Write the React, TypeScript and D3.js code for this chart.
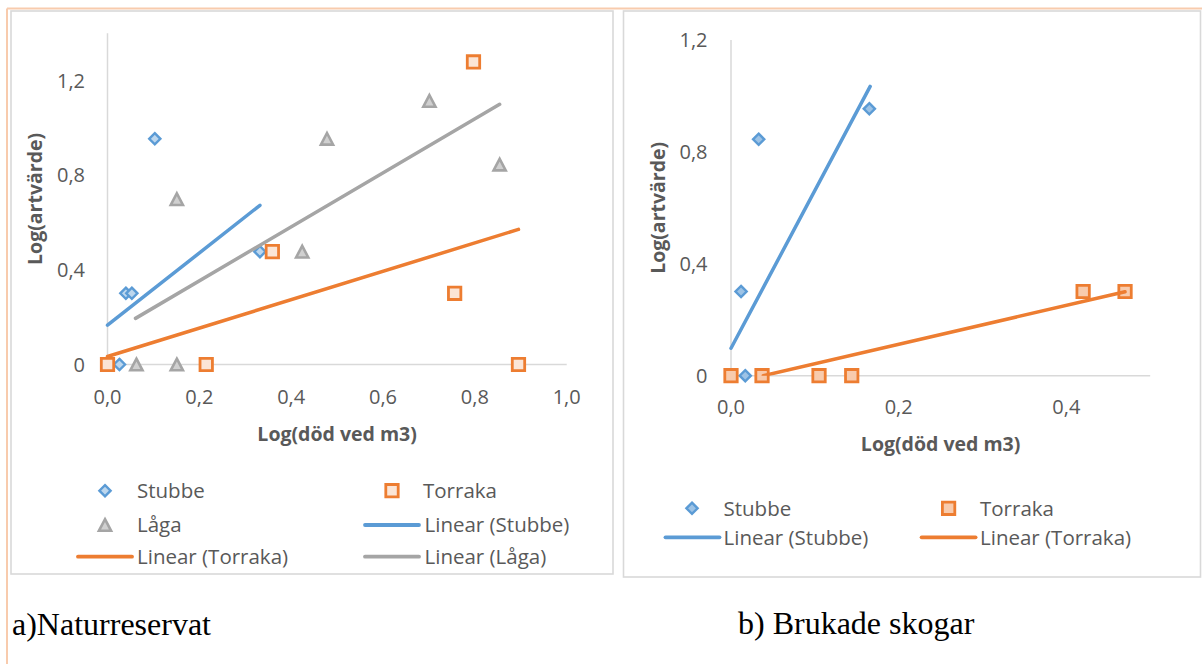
import React from 'react';
import * as d3 from 'd3';

// ---------- data ----------
const yTickValues = [0, 0.4, 0.8, 1.2];
const leftXTickValues = [0, 0.2, 0.4, 0.6, 0.8, 1.0];
const rightXTickValues = [0, 0.2, 0.4];

// a) Naturreservat
const natStubbeX = [0.026, 0.04, 0.053, 0.103, 0.332];
const natStubbeY = [0, 0.301, 0.301, 0.954, 0.477];
const natTorrakaX = [0, 0.215, 0.359, 0.756, 0.797, 0.895];
const natTorrakaY = [0, 0, 0.477, 0.301, 1.279, 0];
const natLagaX = [0.063, 0.151, 0.151, 0.424, 0.478, 0.701, 0.854];
const natLagaY = [0, 0, 0.699, 0.477, 0.954, 1.114, 0.845];
// trend line end points [x0, y0, x1, y1]
const natTrendStubbe = [0, 0.166, 0.332, 0.673];
const natTrendTorraka = [0, 0.034, 0.895, 0.571];
const natTrendLaga = [0.061, 0.195, 0.854, 1.1];

// b) Brukade skogar
const brukStubbeX = [0.012, 0.017, 0.033, 0.165];
const brukStubbeY = [0.301, 0, 0.845, 0.954];
const brukTorrakaX = [0, 0.037, 0.105, 0.144, 0.42, 0.47];
const brukTorrakaY = [0, 0, 0, 0, 0.301, 0.301];
const brukTrendStubbe = [0, 0.098, 0.166, 1.034];
const brukTrendTorraka = [0.0385, 0, 0.47, 0.3];

const seriesNames = ['Stubbe', 'Torraka', 'Låga'];
const yTitle = 'Log(artvärde)';
const xTitle = 'Log(död ved m3)';
const captionA = 'a)Naturreservat';
const captionB = 'b) Brukade skogar';

// ---------- styles ----------
const BLUE = '#5B9BD5';
const ORANGE = '#ED7D31';
const GRAY = '#A5A5A5';
const TEXT = '#595959';
const AXIS = '#D9D9D9';
const SANS = "'Open Sans', 'Noto Sans', sans-serif";
const SERIF = "'Liberation Serif', 'Times New Roman', serif";

const symDiamond = {
  draw(c: any, r: number) {
    c.moveTo(0, -r); c.lineTo(r, 0); c.lineTo(0, r); c.lineTo(-r, 0); c.closePath();
  },
};
const symSquare = {
  draw(c: any, r: number) { c.rect(-r, -r, 2 * r, 2 * r); },
};
const symTriangle = {
  draw(c: any, r: number) {
    c.moveTo(0, -r); c.lineTo(r * 1.05, r); c.lineTo(-r * 1.05, r); c.closePath();
  },
};

type MarkerStyle = { sym: any; r: number; fill: string; stroke: string; sw: number };

const fmtX = (v: number) => v.toFixed(1).replace('.', ',');
const fmtY = (v: number) => (v === 0 ? '0' : v.toFixed(1).replace('.', ','));

function Marker({ x, y, m }: { x: number; y: number; m: MarkerStyle }) {
  const p = d3.symbol().type(m.sym).size(m.r)() as string;
  return <path d={p} transform={`translate(${x},${y})`} fill={m.fill} stroke={m.stroke} strokeWidth={m.sw} strokeLinejoin="miter" />;
}

type Scatter = { xs: number[]; ys: number[]; m: MarkerStyle };
type Trend = { t: number[]; color: string };
type LegendItem = { kind: 'marker' | 'line'; label: string; m?: MarkerStyle; color?: string; cx: number; tx: number; y: number };

function Chart(props: {
  frame: [number, number, number, number];
  xRange: [number, number];
  yRange: [number, number];
  xDomain: [number, number];
  yDomain: [number, number];
  xTicks: number[];
  yTicks: number[];
  yLabelX: number;
  xLabelY: number;
  yTitleX: number;
  xTitleY: number;
  scatters: Scatter[];
  trends: Trend[];
  legend: LegendItem[];
  clipId: string;
}) {
  const x = d3.scaleLinear().domain(props.xDomain).range(props.xRange);
  const y = d3.scaleLinear().domain(props.yDomain).range(props.yRange);
  const [fx0, fy0, fx1, fy1] = props.frame;
  const line = d3.line<[number, number]>().x((d) => x(d[0])).y((d) => y(d[1]));
  const yMid = (props.yRange[0] + props.yRange[1]) / 2;
  const xMid = (props.xRange[0] + props.xRange[1]) / 2;
  return (
    <g>
      <rect x={fx0} y={fy0} width={fx1 - fx0} height={fy1 - fy0} fill="#fff" stroke={AXIS} strokeWidth={1.6} />
      <clipPath id={props.clipId}>
        <rect x={props.xRange[0] - 10} y={props.yRange[1]} width={props.xRange[1] - props.xRange[0] + 20} height={props.yRange[0] - props.yRange[1]} />
      </clipPath>
      {/* axes */}
      <line x1={x(props.xDomain[0])} x2={x(props.xDomain[0])} y1={y(props.yDomain[0])} y2={y(props.yDomain[1])} stroke={AXIS} strokeWidth={1.5} />
      <line x1={x(props.xDomain[0])} x2={x(props.xDomain[1])} y1={y(0)} y2={y(0)} stroke={AXIS} strokeWidth={1.5} />
      {props.yTicks.map((v) => (
        <text key={'y' + v} x={props.yLabelX} y={y(v)} dy="0.36em" textAnchor="end" fontFamily={SANS} fontSize={20} fill={TEXT}>
          {fmtY(v)}
        </text>
      ))}
      {props.xTicks.map((v) => (
        <text key={'x' + v} x={x(v)} y={props.xLabelY} dy="0.36em" textAnchor="middle" fontFamily={SANS} fontSize={20} fill={TEXT}>
          {fmtX(v)}
        </text>
      ))}
      <text transform={`translate(${props.yTitleX},${yMid}) rotate(-90)`} dy="0.36em" textAnchor="middle" fontFamily={SANS} fontWeight="bold" fontSize={19.5} fill={TEXT}>
        {yTitle}
      </text>
      <text x={xMid} y={props.xTitleY} dy="0.36em" textAnchor="middle" fontFamily={SANS} fontWeight="bold" fontSize={19.5} fill={TEXT}>
        {xTitle}
      </text>
      {props.scatters.map((s, si) =>
        s.xs.map((xv, i) => <Marker key={si + '-' + i} x={x(xv)} y={y(s.ys[i])} m={s.m} />)
      )}
      <g clipPath={`url(#${props.clipId})`}>
        {props.trends.map((tr, i) => (
          <path key={i} d={line([[tr.t[0], tr.t[1]], [tr.t[2], tr.t[3]]]) as string} stroke={tr.color} strokeWidth={3.5} fill="none" strokeLinecap="round" />
        ))}
      </g>
      {props.legend.map((it, i) => (
        <g key={'l' + i}>
          {it.kind === 'marker' ? (
            <Marker x={it.cx} y={it.y} m={it.m as MarkerStyle} />
          ) : (
            <line x1={it.cx - 27} x2={it.cx + 27} y1={it.y} y2={it.y} stroke={it.color} strokeWidth={3.8} strokeLinecap="round" />
          )}
          <text x={it.tx} y={it.y} dy="0.36em" fontFamily={SANS} fontSize={20.5} fill={TEXT}>
            {it.label}
          </text>
        </g>
      ))}
    </g>
  );
}

export default function App() {
  const mStubbeA: MarkerStyle = { sym: symDiamond, r: 5.6, fill: '#BDD7EE', stroke: BLUE, sw: 2.4 };
  const mTorrakaA: MarkerStyle = { sym: symSquare, r: 6.2, fill: '#FBE5D6', stroke: ORANGE, sw: 2.8 };
  const mLagaA: MarkerStyle = { sym: symTriangle, r: 5.8, fill: '#D0D0D0', stroke: GRAY, sw: 2.6 };
  const mStubbeB: MarkerStyle = { sym: symDiamond, r: 5.6, fill: '#9DC3E6', stroke: BLUE, sw: 2.4 };
  const mTorrakaB: MarkerStyle = { sym: symSquare, r: 6.2, fill: '#F8CBAD', stroke: ORANGE, sw: 2.8 };

  return (
    <svg width={1202} height={664} style={{ position: 'absolute', left: 0, top: 0, background: '#fff' }}>
      <rect x={0} y={0} width={1202} height={664} fill="#fff" />
      {/* page border */}
      <line x1={7} x2={1202} y1={8.5} y2={8.5} stroke="#F8CBAD" strokeWidth={2} />
      <line x1={7} x2={7} y1={8.5} y2={664} stroke="#F8CBAD" strokeWidth={2} />

      <Chart
        clipId="clipA"
        frame={[11, 11, 613, 574]}
        xRange={[107.5, 566.7]}
        yRange={[364.5, 33.3]}
        xDomain={[0, 1]}
        yDomain={[0, 1.4]}
        xTicks={leftXTickValues}
        yTicks={yTickValues}
        yLabelX={85}
        xLabelY={396.5}
        yTitleX={34.5}
        xTitleY={434}
        scatters={[
          { xs: natStubbeX, ys: natStubbeY, m: mStubbeA },
          { xs: natTorrakaX, ys: natTorrakaY, m: mTorrakaA },
          { xs: natLagaX, ys: natLagaY, m: mLagaA },
        ]}
        trends={[
          { t: natTrendStubbe, color: BLUE },
          { t: natTrendTorraka, color: ORANGE },
          { t: natTrendLaga, color: GRAY },
        ]}
        legend={[
          { kind: 'marker', label: seriesNames[0], m: mStubbeA, cx: 105, tx: 137, y: 490.7 },
          { kind: 'marker', label: seriesNames[1], m: mTorrakaA, cx: 392, tx: 423, y: 490.7 },
          { kind: 'marker', label: seriesNames[2], m: mLagaA, cx: 105, tx: 137, y: 525 },
          { kind: 'line', label: `Linear (${seriesNames[0]})`, color: BLUE, cx: 392, tx: 424.5, y: 525 },
          { kind: 'line', label: `Linear (${seriesNames[1]})`, color: ORANGE, cx: 105, tx: 137, y: 556.7 },
          { kind: 'line', label: `Linear (${seriesNames[2]})`, color: GRAY, cx: 392, tx: 424.5, y: 556.7 },
        ]}
      />

      <Chart
        clipId="clipB"
        frame={[623.5, 11, 1200.5, 577]}
        xRange={[731, 1150.2]}
        yRange={[375.7, 40]}
        xDomain={[0, 0.5]}
        yDomain={[0, 1.2]}
        xTicks={rightXTickValues}
        yTicks={yTickValues}
        yLabelX={707.5}
        xLabelY={406.5}
        yTitleX={658}
        xTitleY={443.5}
        scatters={[
          { xs: brukStubbeX, ys: brukStubbeY, m: mStubbeB },
          { xs: brukTorrakaX, ys: brukTorrakaY, m: mTorrakaB },
        ]}
        trends={[
          { t: brukTrendStubbe, color: BLUE },
          { t: brukTrendTorraka, color: ORANGE },
        ]}
        legend={[
          { kind: 'marker', label: seriesNames[0], m: mStubbeB, cx: 692, tx: 723.5, y: 508.3 },
          { kind: 'marker', label: seriesNames[1], m: mTorrakaB, cx: 948.6, tx: 980, y: 508.3 },
          { kind: 'line', label: `Linear (${seriesNames[0]})`, color: BLUE, cx: 692.5, tx: 723.5, y: 537.3 },
          { kind: 'line', label: `Linear (${seriesNames[1]})`, color: ORANGE, cx: 948.6, tx: 980, y: 537.3 },
        ]}
      />

      <text x={12} y={634.5} fontFamily={SERIF} fontSize={32} fill="#000">{captionA}</text>
      <text x={738} y={633.5} fontFamily={SERIF} fontSize={32} fill="#000">{captionB}</text>
    </svg>
  );
}
